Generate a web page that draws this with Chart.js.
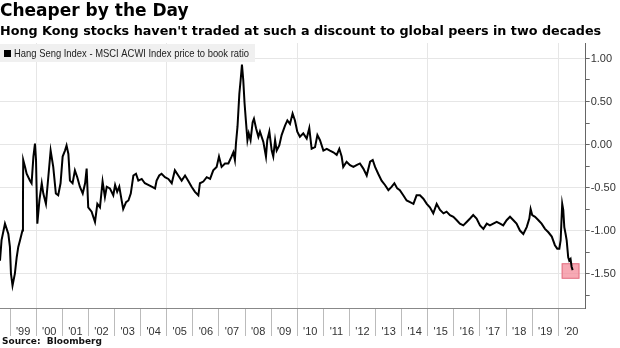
<!DOCTYPE html>
<html>
<head>
<meta charset="utf-8">
<script src="https://cdn.jsdelivr.net/npm/chart.js@4.4.0/dist/chart.umd.min.js"></script>
<style>
  body { margin: 0; background: #fff; }
  #chart { display: block; }
</style>
</head>
<body>
<canvas id="chart" width="620" height="348"></canvas>
<script>
// texts
const titleText = "Cheaper by the Day";
const subtitleText = "Hong Kong stocks haven't traded at such a discount to global peers in two decades";
const seriesLabel = "Hang Seng Index - MSCI ACWI Index price to book ratio";
const sourceText = "Source:  Bloomberg";

// x = year (decimal)
const dates = [
  1998.61, 1998.67, 1998.80, 1998.93, 1998.99, 1999.03, 1999.09, 1999.18, 1999.25, 1999.31,
  1999.38, 1999.47, 1999.49, 1999.50, 1999.57, 1999.63, 1999.76, 1999.82, 1999.89, 1999.95,
  1999.99, 2000.04, 2000.12, 2000.21, 2000.27, 2000.37, 2000.46, 2000.55, 2000.65, 2000.75,
  2000.84, 2000.93, 2001.01, 2001.10, 2001.16, 2001.23, 2001.29, 2001.39, 2001.48, 2001.57,
  2001.67, 2001.78, 2001.87, 2001.93, 2001.99, 2002.12, 2002.25, 2002.34, 2002.44, 2002.54,
  2002.63, 2002.70, 2002.82, 2002.95, 2003.02, 2003.10, 2003.18, 2003.27, 2003.33, 2003.44,
  2003.53, 2003.62, 2003.72, 2003.82, 2003.91, 2004.04, 2004.16, 2004.29, 2004.42, 2004.55,
  2004.61, 2004.71, 2004.80, 2004.93, 2005.06, 2005.19, 2005.31, 2005.44, 2005.57, 2005.70,
  2005.82, 2005.95, 2006.08, 2006.21, 2006.27, 2006.40, 2006.53, 2006.66, 2006.78, 2006.91,
  2007.00, 2007.10, 2007.23, 2007.36, 2007.48, 2007.55, 2007.61, 2007.65, 2007.71, 2007.78,
  2007.83, 2007.88, 2007.93, 2007.98, 2008.03, 2008.09, 2008.14, 2008.21, 2008.29, 2008.34,
  2008.42, 2008.51, 2008.57, 2008.70, 2008.80, 2008.85, 2008.93, 2009.02, 2009.08, 2009.15,
  2009.21, 2009.31, 2009.40, 2009.53, 2009.62, 2009.72, 2009.82, 2009.91, 2010.00, 2010.10,
  2010.23, 2010.36, 2010.46, 2010.55, 2010.68, 2010.77, 2010.87, 2011.00, 2011.13, 2011.25,
  2011.38, 2011.51, 2011.61, 2011.70, 2011.76, 2011.89, 2012.02, 2012.15, 2012.27, 2012.40,
  2012.53, 2012.66, 2012.79, 2012.89, 2012.98, 2013.10, 2013.23, 2013.36, 2013.49, 2013.62,
  2013.72, 2013.83, 2013.93, 2014.06, 2014.19, 2014.32, 2014.45, 2014.57, 2014.70, 2014.83,
  2014.96, 2015.08, 2015.21, 2015.34, 2015.47, 2015.60, 2015.72, 2015.85, 2015.98, 2016.11,
  2016.23, 2016.36, 2016.49, 2016.62, 2016.74, 2016.87, 2017.00, 2017.13, 2017.26, 2017.38,
  2017.51, 2017.64, 2017.77, 2017.89, 2018.02, 2018.15, 2018.28, 2018.40, 2018.53, 2018.66,
  2018.79, 2018.89, 2018.94, 2019.00, 2019.11, 2019.24, 2019.36, 2019.49, 2019.62, 2019.75,
  2019.87, 2019.96, 2020.04, 2020.09, 2020.15, 2020.19, 2020.23, 2020.28, 2020.32, 2020.38,
  2020.42, 2020.47, 2020.51, 2020.55
];

// price to book spread
const ratio = [
  -1.35, -1.11, -0.92, -1.04, -1.19, -1.50, -1.64, -1.50, -1.31, -1.19,
  -1.11, -1.00, -0.65, -0.18, -0.26, -0.34, -0.42, -0.45, -0.14, 0.01,
  -0.18, -0.92, -0.65, -0.45, -0.57, -0.69, -0.38, -0.07, -0.26, -0.57,
  -0.59, -0.45, -0.14, -0.07, -0.01, -0.11, -0.42, -0.45, -0.30, -0.38,
  -0.49, -0.57, -0.45, -0.28, -0.73, -0.78, -0.90, -0.69, -0.73, -0.43,
  -0.61, -0.49, -0.51, -0.59, -0.47, -0.55, -0.49, -0.65, -0.75, -0.67,
  -0.65, -0.57, -0.36, -0.34, -0.42, -0.40, -0.45, -0.47, -0.49, -0.51,
  -0.42, -0.36, -0.34, -0.38, -0.40, -0.45, -0.30, -0.36, -0.42, -0.36,
  -0.42, -0.49, -0.55, -0.59, -0.45, -0.43, -0.38, -0.40, -0.30, -0.26,
  -0.14, -0.26, -0.22, -0.22, -0.14, -0.09, -0.18, 0.01, 0.21, 0.59,
  0.75, 0.93, 0.75, 0.48, 0.28, 0.05, 0.13, 0.05, 0.26, 0.30,
  0.19, 0.09, 0.15, 0.03, -0.14, 0.05, 0.15, -0.07, -0.14, 0.05,
  -0.07, -0.01, 0.11, 0.22, 0.28, 0.24, 0.36, 0.28, 0.15, 0.09,
  0.13, 0.07, 0.19, -0.05, -0.03, 0.11, 0.05, -0.07, -0.05, -0.07,
  -0.09, -0.12, -0.05, -0.14, -0.26, -0.20, -0.24, -0.26, -0.24, -0.22,
  -0.28, -0.36, -0.20, -0.18, -0.26, -0.34, -0.42, -0.47, -0.53, -0.49,
  -0.45, -0.51, -0.53, -0.59, -0.65, -0.67, -0.69, -0.59, -0.59, -0.63,
  -0.69, -0.73, -0.80, -0.69, -0.76, -0.80, -0.78, -0.82, -0.84, -0.88,
  -0.92, -0.94, -0.90, -0.86, -0.82, -0.86, -0.94, -0.98, -0.92, -0.94,
  -0.92, -0.90, -0.92, -0.94, -0.88, -0.84, -0.88, -0.92, -1.00, -1.04,
  -0.96, -0.86, -0.75, -0.82, -0.84, -0.88, -0.92, -0.98, -1.02, -1.07,
  -1.17, -1.21, -1.21, -1.11, -0.69, -0.76, -0.96, -1.04, -1.11, -1.31,
  -1.35, -1.33, -1.42, -1.46
];

// axis ticks
const yearTicks = [1999, 2000, 2001, 2002, 2003, 2004, 2005, 2006, 2007, 2008, 2009,
  2010, 2011, 2012, 2013, 2014, 2015, 2016, 2017, 2018, 2019, 2020];
const valueTicks = [-1.75, -1.5, -1.25, -1, -0.75, -0.5, -0.25, 0, 0.25, 0.5, 0.75, 1];

// the pink box on the latest readings
const boxYears = [2020.13, 2020.81];
const boxValues = [-1.56, -1.38];

const points = dates.map((d, i) => ({ x: d, y: ratio[i] }));

const highlightBox = {
  id: 'highlightBox',
  beforeDatasetsDraw(chart) {
    const { ctx, scales } = chart;
    const x0 = scales.x.getPixelForValue(boxYears[0]);
    const x1 = scales.x.getPixelForValue(boxYears[1]);
    const y0 = scales.y.getPixelForValue(boxValues[1]);
    const y1 = scales.y.getPixelForValue(boxValues[0]);
    ctx.save();
    ctx.fillStyle = 'rgba(244, 140, 155, 0.75)';
    ctx.strokeStyle = '#e37385';
    ctx.lineWidth = 1;
    ctx.fillRect(x0, y0, x1 - x0, y1 - y0);
    ctx.strokeRect(x0 + 0.5, y0 + 0.5, x1 - x0 - 1, y1 - y0 - 1);
    ctx.restore();
  }
};

// legend sits inside the plot with a grey band, source under the axis
const legendAndSource = {
  id: 'legendAndSource',
  afterDraw(chart) {
    const ctx = chart.ctx;
    const top = chart.chartArea.top;
    ctx.save();
    ctx.fillStyle = '#f0f0f0';
    ctx.fillRect(0, top + 1, 255, 18);
    ctx.fillStyle = '#000';
    ctx.fillRect(4, top + 7, 7, 7);
    ctx.fillStyle = '#222';
    ctx.font = '11.5px "Liberation Sans", sans-serif';
    ctx.textBaseline = 'middle';
    // squeeze to the narrow width of the original legend
    ctx.fillText(chart.data.datasets[0].label, 14, top + 11, 235);

    ctx.fillStyle = '#111';
    ctx.font = 'bold 9px "DejaVu Sans", sans-serif';
    ctx.fillText(sourceText, 2, 342);
    ctx.restore();
  }
};

new Chart(document.getElementById('chart'), {
  type: 'line',
  data: {
    datasets: [{
      label: seriesLabel,
      data: points,
      borderColor: '#000',
      borderWidth: 2,
      pointRadius: 0,
      tension: 0
    }]
  },
  options: {
    responsive: false,
    animation: false,
    layout: { padding: { left: 0, right: 0, top: 0, bottom: 12 } },
    plugins: {
      legend: { display: false },
      tooltip: { enabled: false },
      title: {
        display: true,
        text: titleText,
        align: 'start',
        color: '#000',
        font: { family: 'DejaVu Sans', size: 17, weight: 'bold', lineHeight: 1.2 },
        padding: { top: 1, bottom: 0 }
      },
      subtitle: {
        display: true,
        text: subtitleText,
        align: 'start',
        color: '#000',
        font: { family: 'DejaVu Sans', size: 12.75, weight: 'bold', lineHeight: 1.2 },
        padding: { top: 3, bottom: 3.3 }
      }
    },
    scales: {
      x: {
        type: 'linear',
        min: 1998.61,
        max: 2021.05,
        afterBuildTicks: scale => { scale.ticks = yearTicks.map(v => ({ value: v })); },
        afterFit: scale => { scale.height = 28; },
        grid: {
          color: ctx => (ctx.tick && ctx.tick.value % 5 === 0) ? '#e6e6e6' : 'rgba(0,0,0,0)',
          tickColor: '#bbb',
          tickLength: 28
        },
        border: { color: '#888' },
        ticks: {
          autoSkip: false,
          maxRotation: 0,
          padding: -11,
          labelOffset: 13,
          color: '#333',
          font: { family: 'Liberation Sans', size: 11 },
          callback: v => "'" + String(v).slice(2)
        }
      },
      y: {
        position: 'right',
        min: -1.9,
        max: 1.18,
        afterBuildTicks: scale => { scale.ticks = valueTicks.map(v => ({ value: v })); },
        afterFit: scale => { scale.width = 34.3; },
        grid: {
          color: ctx => (ctx.tick && Math.abs(ctx.tick.value * 2 - Math.round(ctx.tick.value * 2)) < 1e-6) ? '#e6e6e6' : 'rgba(0,0,0,0)',
          tickColor: '#666',
          tickLength: 4
        },
        border: { color: '#666' },
        ticks: {
          padding: 1,
          color: '#333',
          font: { family: 'Liberation Sans', size: 11 },
          callback: v => (Math.abs(v * 2 - Math.round(v * 2)) < 1e-6) ? v.toFixed(2) : ''
        }
      }
    }
  },
  plugins: [highlightBox, legendAndSource]
});
</script>
</body>
</html>
